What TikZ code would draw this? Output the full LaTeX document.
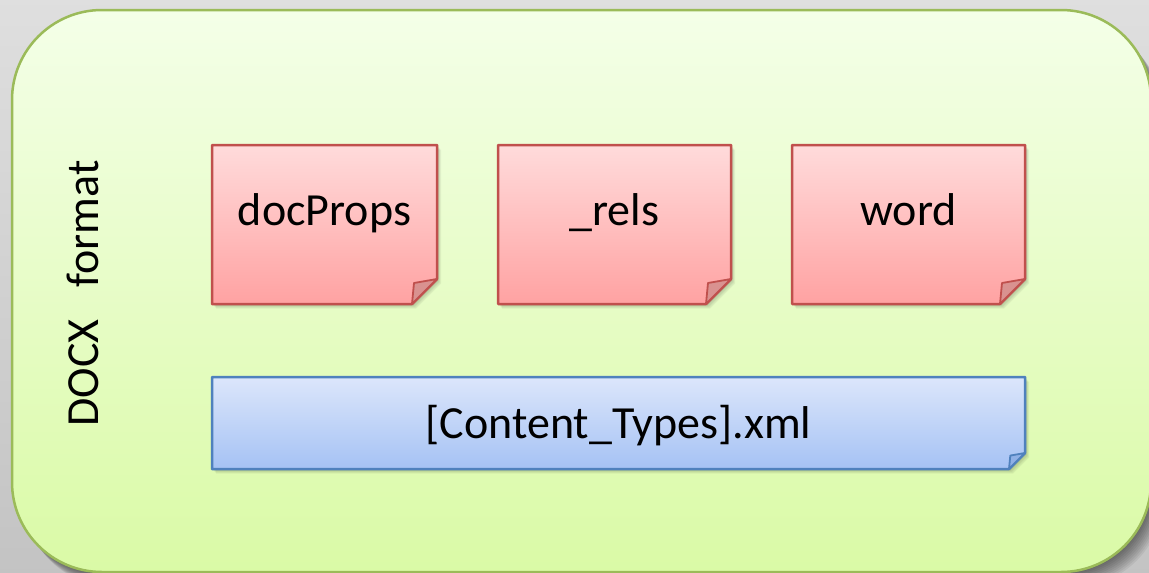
\documentclass[tikz,border=0pt]{standalone}
\usepackage{fontspec}
\setmainfont{Carlito}
\definecolor{bg}{HTML}{D9D9D9}
\definecolor{greentop}{HTML}{F4FFE8}
\definecolor{greenbot}{HTML}{DAFAA6}
\definecolor{greenline}{HTML}{9BBB59}
\definecolor{redtop}{HTML}{FFDBDB}
\definecolor{redbot}{HTML}{FFA2A2}
\definecolor{redline}{HTML}{C0504D}
\definecolor{redfold}{HTML}{D99290}
\definecolor{bluetop}{HTML}{DCE6FB}
\definecolor{bluebot}{HTML}{A5C2F4}
\definecolor{blueline}{HTML}{4F81BD}
\definecolor{bluefold}{HTML}{8FB0E6}
\tikzset{
  labeltext/.style={font=\fontsize{46}{54}\selectfont, text=black, anchor=base, inner sep=0pt},
  boxline/.style={line width=2.5pt, line join=round},
  foldline/.style={line width=1.8pt, line join=round},
}
% #1 name, #2 x1, #3 y1, #4 x2, #5 y2, #6 fold size, #7 colour prefix, #8 baseline y, #9 text
\newcommand\paperbox[9]{%
  \foreach \k in {1,...,5}{
    \fill[black,opacity=0.05] (#2+\k*0.8,#3+\k*0.9) -- (#4+\k*0.8,#3+\k*0.9) -- (#4+\k*0.8,#5+\k*0.9-#6) -- (#4+\k*0.8-#6,#5+\k*0.9) -- (#2+\k*0.8,#5+\k*0.9) -- cycle;
  }
  \shade[top color=#7top, bottom color=#7bot, draw=#7line, boxline]
    (#2,#3) -- (#4,#3) -- (#4,#5-#6) -- (#4-#6,#5) -- (#2,#5) -- cycle;
  \filldraw[fill=#7fold, draw=#7line, foldline]
    (#4,#5-#6) -- (#4-0.92*#6,#5-0.84*#6) -- (#4-#6,#5) -- cycle;
  \node[labeltext] (#1) at ({(#2+#4)/2},#8) {#9};
}
\begin{document}
\begin{tikzpicture}[x=1pt,y=-1pt]
\useasboundingbox (0,0) rectangle (1149,573);
\shade[top color=bg!85!white, bottom color=bg!90!black] (0,0) rectangle (1149,573);
% shadow of the container
\foreach \k in {1,...,10}{
  \fill[black,opacity=0.06, rounded corners=90pt] (12+\k*1.2,10+\k*1.5) rectangle (1151+\k*1.2,572+\k*1.5);
}
\shade[top color=greentop, bottom color=greenbot, draw=greenline, line width=2.5pt, rounded corners=90pt]
  (12,10) rectangle (1151,572);
\node[labeltext, rotate=90] (docx) at (98,293.5) {DOCX\hspace{32pt}format};
\paperbox{docprops}{212}{145}{437}{304}{25}{red}{225}{docProps}
\paperbox{rels}{498}{145}{731}{304}{25}{red}{225}{\_rels}
\paperbox{word}{792}{145}{1025}{304}{25}{red}{225}{word}
\paperbox{types}{212}{377}{1025}{469}{16}{blue}{438}{[Content\_Types].xml}
\end{tikzpicture}
\end{document}
